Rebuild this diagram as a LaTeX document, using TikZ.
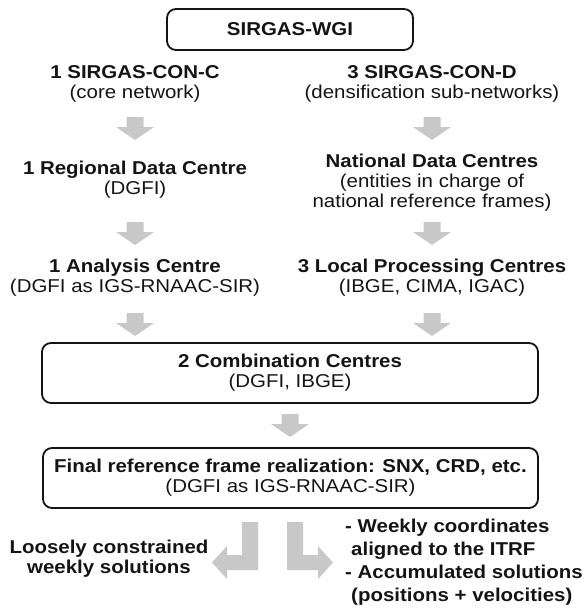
\documentclass[tikz,border=0pt]{standalone}
\usepackage{fontspec}
\setmainfont{Liberation Sans}[FakeStretch=1.1]
\usetikzlibrary{calc}
\definecolor{arrgray}{RGB}{200,200,200}
\definecolor{ink}{RGB}{20,20,20}
\newcommand\blockdown[1]{\fill[arr, shift={#1}] (-8.5,0) -- (8.5,0) -- (8.5,10) -- (19,10) -- (0,23) -- (-19,10) -- (-8.5,10) -- cycle;}
\begin{document}
\begin{tikzpicture}[x=1pt,y=-1pt,
  every node/.style={font=\fontsize{18.6}{20}\selectfont, text=ink, align=center, inner sep=0pt},
  box/.style={draw=ink, line width=1.8pt, rounded corners=9pt},
  arr/.style={fill=arrgray}]
\useasboundingbox (0,0) rectangle (585,613);
% boxes
\node[box, minimum width=246pt, minimum height=41pt] (wgi) at (290,29.5) {\textbf{SIRGAS-WGI}};
\node[box, minimum width=496pt, minimum height=60pt] (comb) at (290,373) {\textbf{2 Combination Centres}\\(DGFI, IBGE)};
\node[box, minimum width=495pt, minimum height=60pt] (final) at (290.5,478) {\textbf{Final reference frame realization: SNX, CRD, etc.}\\(DGFI as IGS-RNAAC-SIR)};
% text rows
\node (r1L) at (135,84) {\textbf{1 SIRGAS-CON-C}\\(core network)};
\node (r1R) at (432,84) {\textbf{3 SIRGAS-CON-D}\\(densification sub-networks)};
\node (r2L) at (135,180) {\textbf{1 Regional Data Centre}\\(DGFI)};
\node (r2R) at (432,183) {\textbf{National Data Centres}\\(entities in charge of\\national reference frames)};
\node (r3L) at (135,277.5) {\textbf{1 Analysis Centre}\\(DGFI as IGS-RNAAC-SIR)};
\node (r3R) at (432,277.5) {\textbf{3 Local Processing Centres}\\(IBGE, CIMA, IGAC)};
\node (bL) at (109,559) {\textbf{Loosely constrained}\\\textbf{weekly solutions}};
\node[align=left, anchor=west, font=\fontsize{18.6}{23}\selectfont\bfseries] (bR) at (345,562) {- Weekly coordinates\\\hspace{6pt}aligned to the ITRF\\- Accumulated solutions\\\hspace{6pt}(positions + velocities)};
% arrow anchors
\coordinate (a1L) at (135,117);
\coordinate (a1R) at (432,117);
\coordinate (a2L) at (135,222);
\coordinate (a2R) at (432,222);
\coordinate (a3L) at (135,313);
\coordinate (a3R) at (432,313);
\coordinate (a4) at (290,414);
\blockdown{(a1L)}
\blockdown{(a1R)}
\blockdown{(a2L)}
\blockdown{(a2R)}
\blockdown{(a3L)}
\blockdown{(a3R)}
\blockdown{(a4)}
% L-shaped arrows
\fill[arr] (242,522) -- (258,522) -- (258,570) -- (227,570) -- (227,579) -- (212,562.5) -- (227,546) -- (227,555) -- (242,555) -- cycle;
\fill[arr] (303,522) -- (287,522) -- (287,570) -- (318,570) -- (318,579) -- (333,562.5) -- (318,546) -- (318,555) -- (303,555) -- cycle;
\end{tikzpicture}
\end{document}
